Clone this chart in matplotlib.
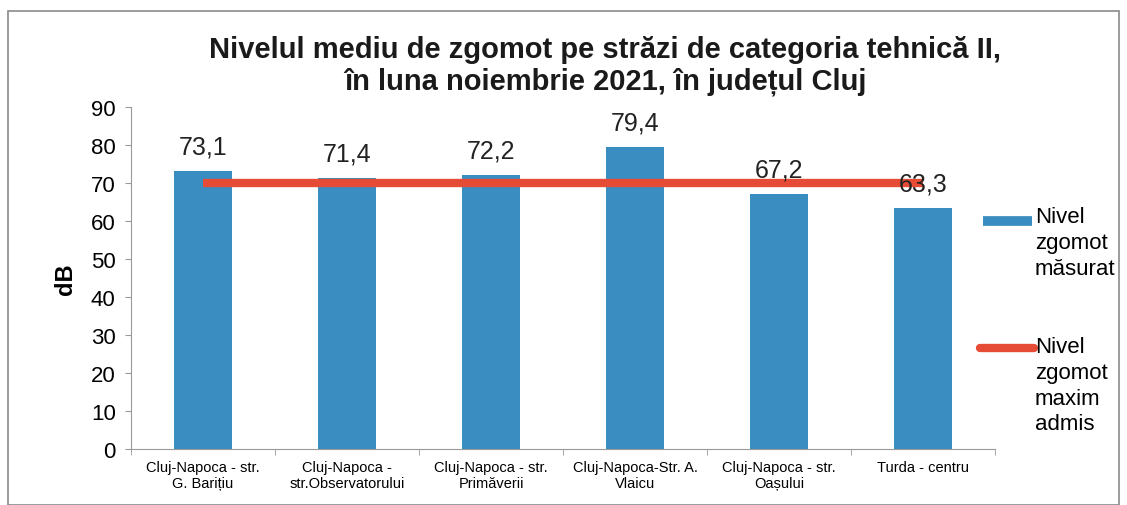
import matplotlib
matplotlib.use("Agg")
import matplotlib.pyplot as plt
from matplotlib.lines import Line2D
from matplotlib.patches import Rectangle
import numpy as np

plt.rcParams['font.family'] = ['Liberation Sans', 'DejaVu Sans']

categories = [
    "Cluj-Napoca - str.\nG. Barițiu",
    "Cluj-Napoca -\nstr.Observatorului",
    "Cluj-Napoca - str.\nPrimăverii",
    "Cluj-Napoca-Str. A.\nVlaicu",
    "Cluj-Napoca - str.\nOașului",
    "Turda - centru",
]
measured = [73.1, 71.4, 72.2, 79.4, 67.2, 63.3]
max_allowed = [70, 70, 70, 70, 70, 70]
value_labels = ["73,1", "71,4", "72,2", "79,4", "67,2", "63,3"]
yticks = [0, 10, 20, 30, 40, 50, 60, 70, 80, 90]

bar_color = "#3A8DC1"
line_color = "#E64B35"

fig = plt.figure(figsize=(11.27, 5.06), dpi=100)
fig.patch.set_facecolor("white")

# outer frame
fig.add_artist(Rectangle((8 / 1127, 0.0), 1 - 16 / 1127, 1 - 12 / 506,
                         transform=fig.transFigure, fill=False,
                         edgecolor="#8a8a8a", linewidth=1.2))

ax = fig.add_axes([131 / 1127, 56 / 506, 864 / 1127, 342 / 506])
x = np.arange(len(categories))
ax.bar(x, measured, width=0.4, color=bar_color, zorder=2)
ax.plot(x, max_allowed, color=line_color, linewidth=6, zorder=3,
        solid_capstyle="butt")

for xi, v, lab in zip(x, measured, value_labels):
    ax.annotate(lab, (xi, v), xytext=(0, 9), textcoords="offset points",
                ha="center", va="bottom", fontsize=18, color="#222222", zorder=4)

ax.set_xlim(-0.5, len(categories) - 0.5)
ax.set_ylim(0, 90)
ax.set_yticks(yticks)
ax.set_yticklabels([str(t) for t in yticks], fontsize=16)
ax.set_xticks(x)
ax.set_xticklabels(categories, fontsize=10.5, linespacing=1.15)
ax.set_xticks(np.arange(-0.5, len(categories)), minor=True)
ax.tick_params(axis="x", which="major", length=0, pad=8)
ax.tick_params(axis="x", which="minor", length=4, color="#999999")
ax.tick_params(axis="y", length=4, color="#999999", pad=7)

for s in ["top", "right"]:
    ax.spines[s].set_visible(False)
for s in ["left", "bottom"]:
    ax.spines[s].set_color("#999999")

ax.set_ylabel("dB", fontsize=17, fontweight="bold", labelpad=10)

fig.text(605 / 1127, 1 - 66 / 506,
         "Nivelul mediu de zgomot pe străzi de categoria tehnică II,\nîn luna noiembrie 2021, în județul Cluj",
         ha="center", va="center", fontsize=21, fontweight="bold",
         linespacing=1.2, color="#1a1a1a")

# legend
fig.add_artist(Line2D([983 / 1127, 1032 / 1127], [1 - 222 / 506] * 2,
                      color=bar_color, linewidth=7, transform=fig.transFigure,
                      solid_capstyle="butt"))
fig.text(1035 / 1127, 1 - 207 / 506, "Nivel\nzgomot\nmăsurat",
         ha="left", va="top", fontsize=16, linespacing=1.3)
fig.add_artist(Line2D([980 / 1127, 1034 / 1127], [1 - 349 / 506] * 2,
                      color=line_color, linewidth=6, transform=fig.transFigure,
                      solid_capstyle="round"))
fig.text(1035 / 1127, 1 - 337 / 506, "Nivel\nzgomot\nmaxim\nadmis",
         ha="left", va="top", fontsize=16, linespacing=1.3)

fig.savefig("out.png", dpi=100, facecolor="white")
